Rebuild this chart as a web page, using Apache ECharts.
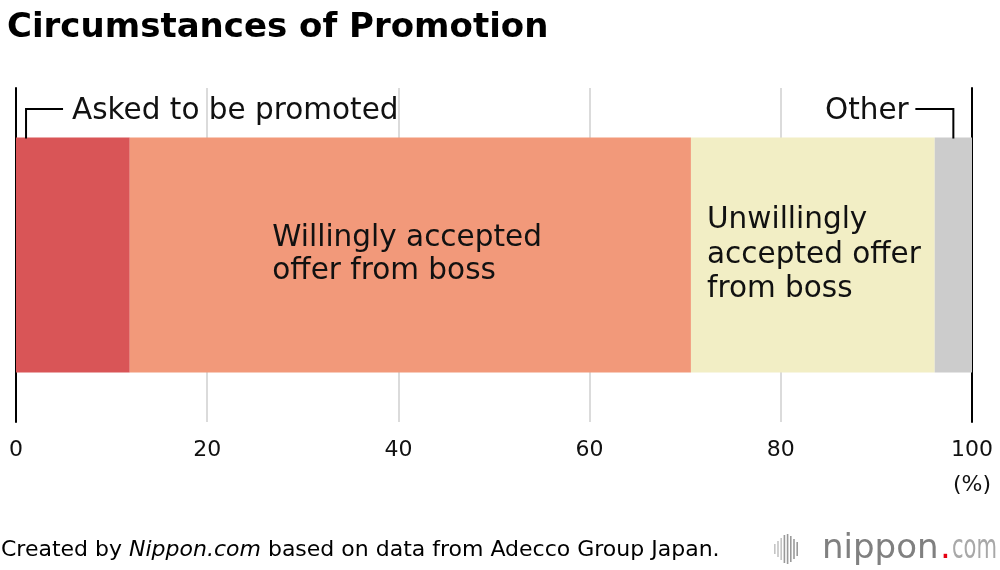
<!DOCTYPE html>
<html><head><meta charset="utf-8">
<script src="https://cdn.jsdelivr.net/npm/echarts@6/dist/echarts.min.js"></script>
<style>html,body{margin:0;padding:0;background:#fff}#c{width:1000px;height:570px}</style>
</head><body><div id="c"></div>
<script>
const categories = ['Promotion'];
const seriesNames = ['Asked to be promoted', 'Willingly accepted offer from boss', 'Unwillingly accepted offer from boss', 'Other'];
const values = [11.9, 58.7, 25.5, 3.9];
const xTicks = [0, 20, 40, 60, 80, 100];
const colors = ['#D95557', '#F2997A', '#F2EEC5', '#CCCCCC'];

const FONT = '"DejaVu Sans", "Liberation Sans", Arial, sans-serif';
const chart = echarts.init(document.getElementById('c'), null, {renderer: 'canvas'});

const LS = 29.5;
const labelCfg = [
  {show: true, position: [56, -26], align: 'left', verticalAlign: 'middle', formatter: 'Asked to be promoted', fontSize: LS, color: '#111', fontFamily: FONT},
  {show: true, position: ['25.4%', '50%'], align: 'left', verticalAlign: 'middle', formatter: 'Willingly accepted\noffer from boss', fontSize: LS, lineHeight: 33, color: '#111', fontFamily: FONT},
  {show: true, position: ['6.6%', '50%'], align: 'left', verticalAlign: 'middle', formatter: 'Unwillingly\naccepted offer\nfrom boss', fontSize: LS, lineHeight: 34.5, color: '#111', fontFamily: FONT},
  {show: true, position: [-26, -26], align: 'right', verticalAlign: 'middle', formatter: 'Other', fontSize: LS, color: '#111', fontFamily: FONT}
];

const option = {
  animation: false,
  backgroundColor: '#fff',
  title: {
    text: 'Circumstances of Promotion', left: 2, top: 6,
    textStyle: {fontSize: 34, fontWeight: 'bold', color: '#000', fontFamily: FONT}
  },
  grid: {left: 16, right: 28, top: 88, bottom: 148, containLabel: false},
  xAxis: {
    type: 'value', min: xTicks[0], max: xTicks[xTicks.length - 1], interval: 20,
    axisLine: {show: false}, axisTick: {show: false},
    splitLine: {show: true, lineStyle: {color: '#cfcfcf', width: 1.5}},
    axisLabel: {
      margin: 11, fontSize: 22, color: '#111', fontFamily: FONT, lineHeight: 35,
      formatter: v => v === 100 ? '100\n(%)' : String(v)
    }
  },
  yAxis: [
    {type: 'category', data: categories, position: 'left',
     axisLine: {show: true, lineStyle: {color: '#000', width: 2}}, axisTick: {show: false}, axisLabel: {show: false}},
    {type: 'category', data: categories, position: 'right',
     axisLine: {show: true, lineStyle: {color: '#000', width: 2}}, axisTick: {show: false}, axisLabel: {show: false}}
  ],
  series: seriesNames.map((name, i) => ({
    name, type: 'bar', stack: 'total', yAxisIndex: 0, barWidth: 235,
    itemStyle: {color: colors[i]},
    label: labelCfg[i],
    data: [values[i]],
    z: 2
  }))
};
chart.setOption(option);

// leader lines and footer
const yc = chart.convertToPixel({yAxisIndex: 0}, categories[0]);
const barTop = yc - 235 / 2;
const lineY = barTop - 28.5;
const xRed = chart.convertToPixel({xAxisIndex: 0}, 1.05);
let cum = 0; for (let i = 0; i < 3; i++) cum += values[i];
const xOther = chart.convertToPixel({xAxisIndex: 0}, cum + values[3] / 2);

const logoBars = [];
const barHeights = [10, 16, 22, 28, 30, 26, 20, 14];
barHeights.forEach((h, i) => {
  logoBars.push({type: 'rect', shape: {x: 774 + i * 3.2, y: 549 - h / 2, width: 1.6, height: h}, style: {fill: i < 3 ? '#c4c4c4' : '#9a9a9a'}});
});

chart.setOption({
  graphic: [
    {type: 'polyline', shape: {points: [[xRed, barTop + 1], [xRed, lineY], [xRed + 37, lineY]]}, style: {stroke: '#000', lineWidth: 2, fill: null}, z: 10},
    {type: 'polyline', shape: {points: [[xOther - 38, lineY], [xOther, lineY], [xOther, barTop + 1]]}, style: {stroke: '#000', lineWidth: 2, fill: null}, z: 10},
    {type: 'text', left: 1, top: 539, style: {
      text: 'Created by {i|Nippon.com} based on data from Adecco Group Japan.',
      fontSize: 22, fill: '#000', fontFamily: FONT,
      rich: {i: {fontStyle: 'italic', fontSize: 22, fill: '#000', fontFamily: FONT}}
    }},
    ...logoBars,
    {type: 'text', x: 822, y: 549, style: {text: 'nippon', fontSize: 34, fill: '#808080', fontFamily: FONT, verticalAlign: 'middle', align: 'left'}},
    {type: 'text', x: 940, y: 549, style: {text: '.', fontSize: 34, fill: '#e60012', fontFamily: FONT, verticalAlign: 'middle', align: 'left'}},
    {type: 'text', x: 952, y: 549, scaleX: 0.62, style: {text: 'com', fontSize: 34, fill: '#a8a8a8', fontFamily: FONT, verticalAlign: 'middle', align: 'left'}}
  ]
});
</script></body></html>
